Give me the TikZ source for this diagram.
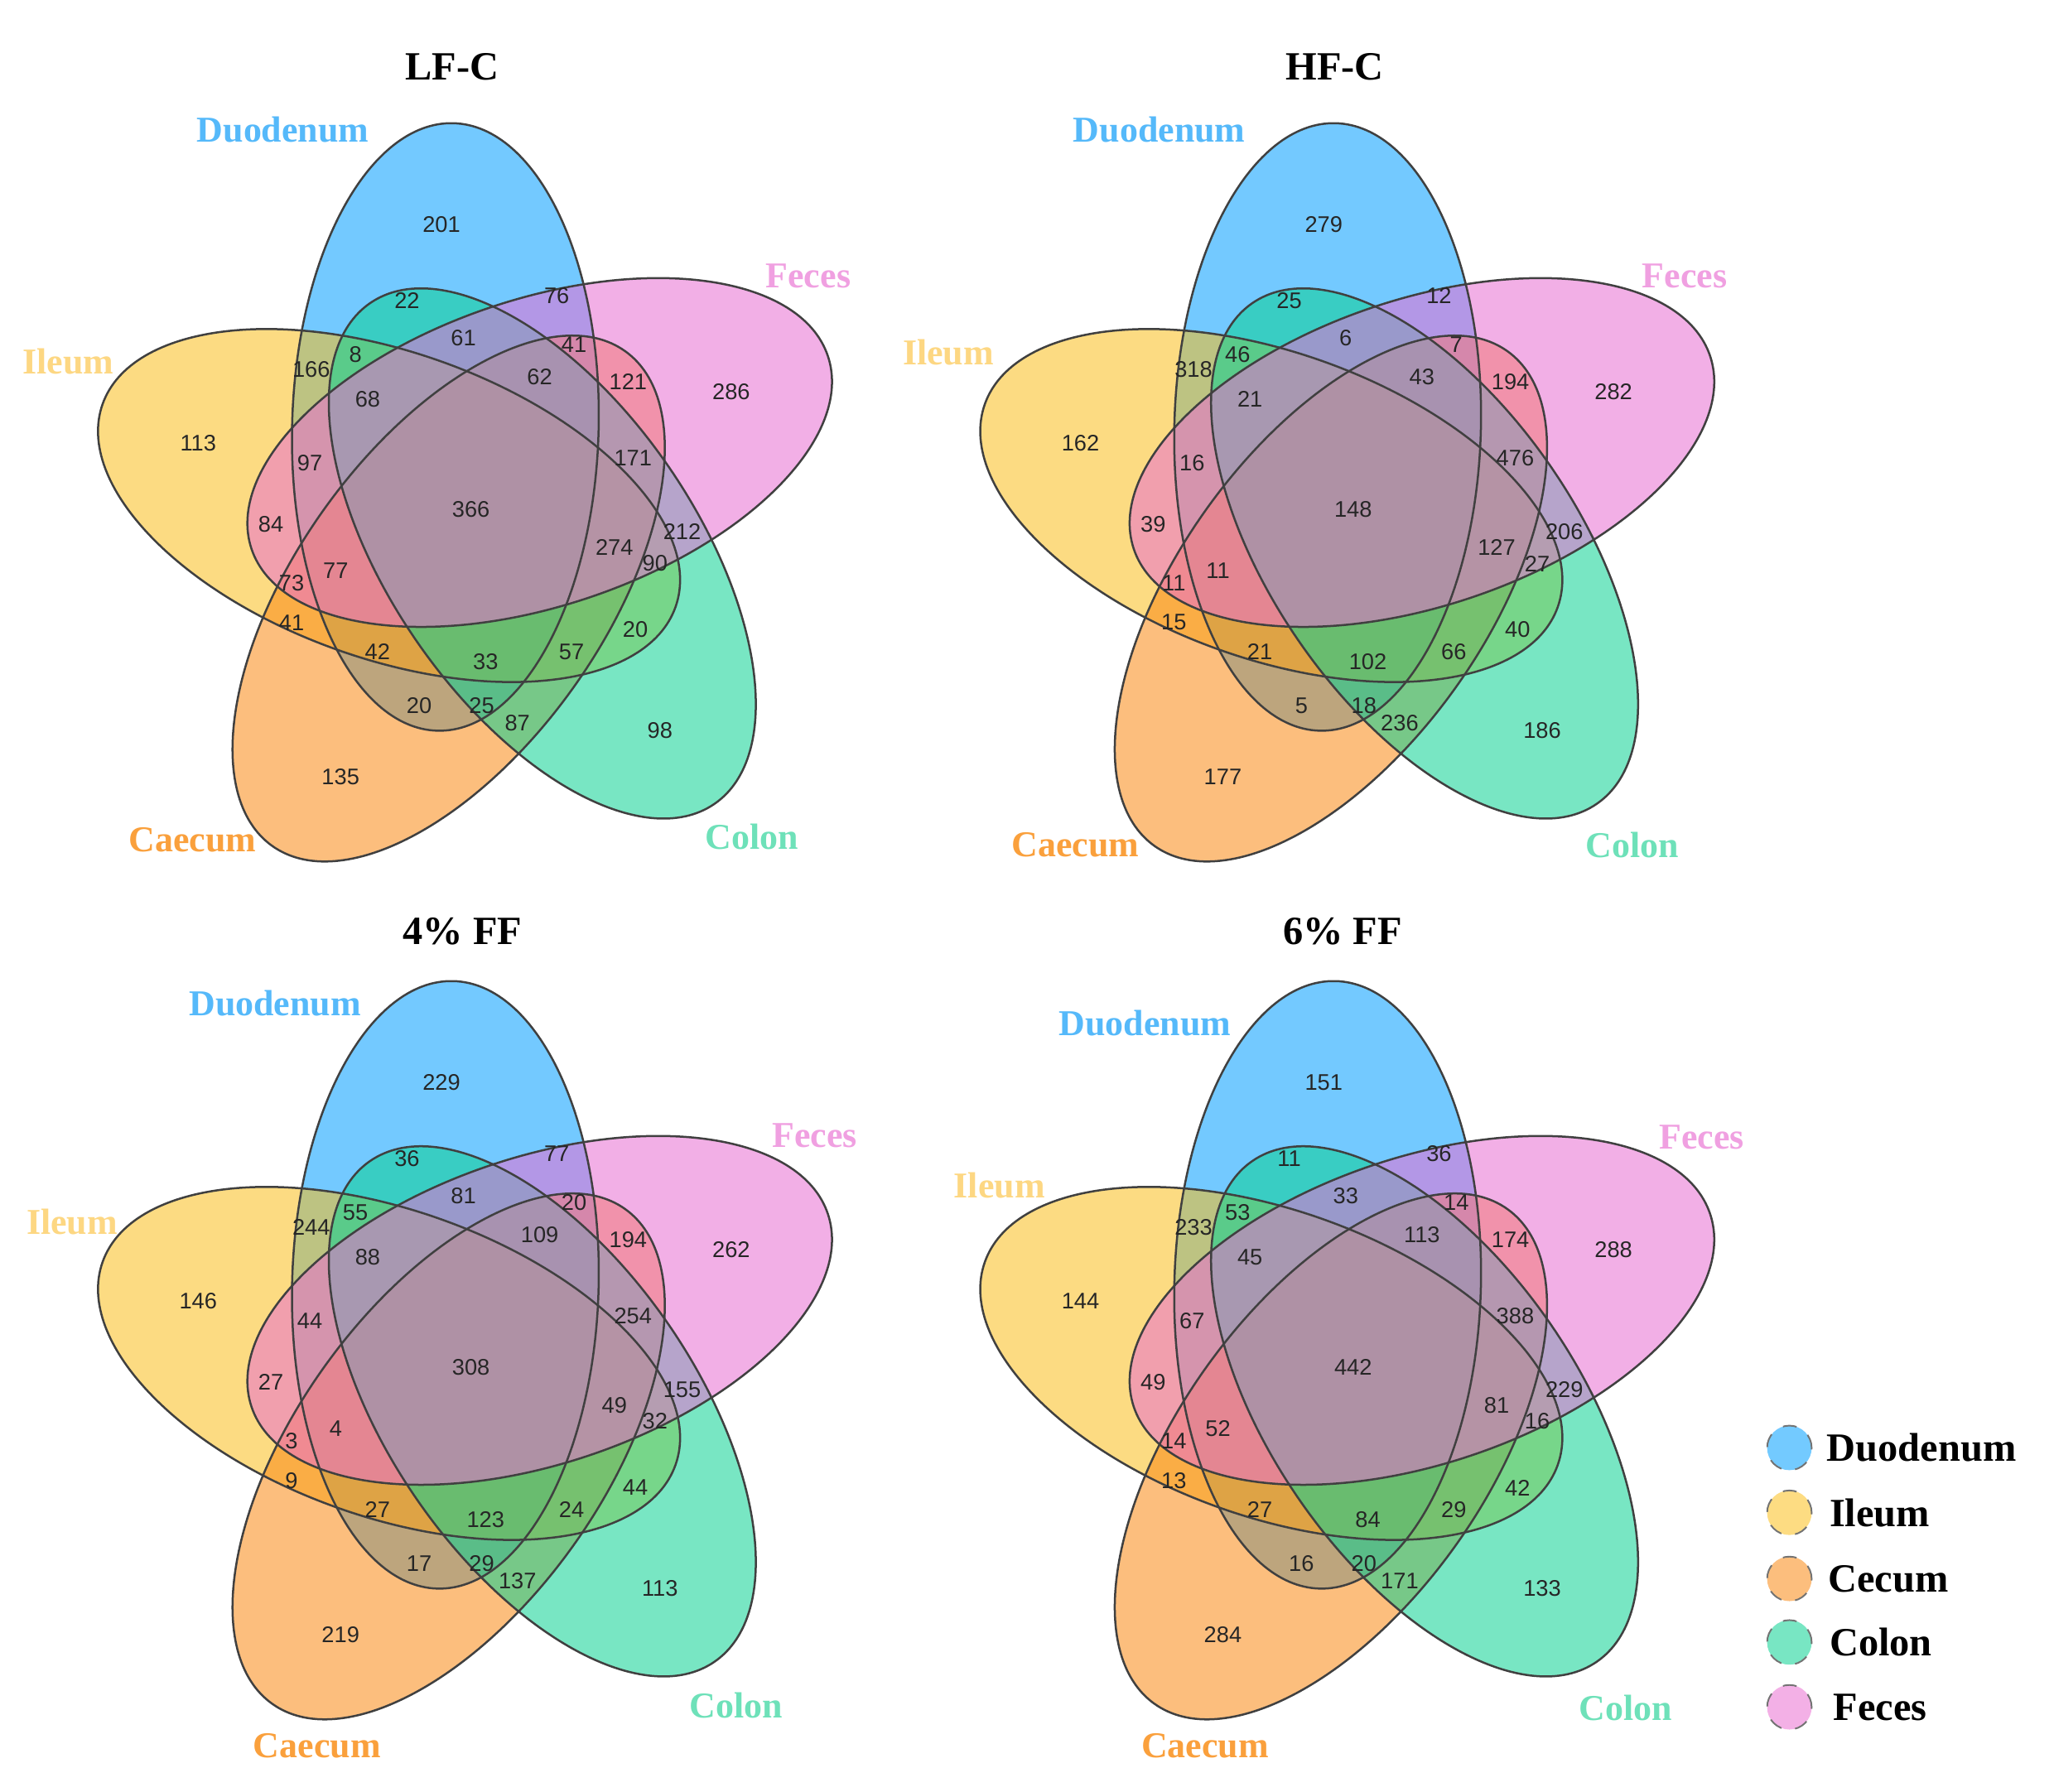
\documentclass[tikz,border=0pt]{standalone}
\usepackage{fontspec}
\setmainfont{Liberation Serif}
\newfontfamily\numfont{Liberation Sans}
\definecolor{cD}{RGB}{0,158,255}
\definecolor{cI}{RGB}{251,191,28}
\definecolor{cCa}{RGB}{250,137,19}
\definecolor{cCo}{RGB}{10,210,146}
\definecolor{cF}{RGB}{233,111,210}
\definecolor{lD}{RGB}{85,185,250}
\definecolor{lI}{RGB}{253,215,130}
\definecolor{lCa}{RGB}{250,160,60}
\definecolor{lCo}{RGB}{110,225,185}
\definecolor{lF}{RGB}{240,160,225}
\tikzset{
  vfill/.style={fill=#1, fill opacity=0.55},
  vline/.style={draw=black!75, line width=0.45pt},
  num/.style={font=\numfont\fontsize{4.9}{5}\selectfont, text=black!85, inner sep=0pt},
  paneltitle/.style={font=\fontsize{8.7}{10}\selectfont\bfseries, inner sep=0pt},
  setlab/.style={font=\fontsize{7.9}{9}\selectfont\bfseries, text=#1, inner sep=0pt},
  legtext/.style={font=\fontsize{8.7}{10}\selectfont\bfseries, anchor=west, inner sep=0pt},
  legdot/.style={circle, inner sep=0pt, minimum size=0.34cm, fill=#1, draw=black!55, dashed, line width=0.35pt}
}
\newcommand\vennellipse[3]{\path[shift={(#1)},rotate=#2,#3] (0,0) ellipse [x radius=232, y radius=117];}
\newcommand\venndiagram{%
  \vennellipse{340,326}{88.5}{vfill=cD}
  \vennellipse{297,386}{160.5}{vfill=cI}
  \vennellipse{342.5,457}{54.5}{vfill=cCa}
  \vennellipse{414,422.6}{-55.5}{vfill=cCo}
  \vennellipse{412,345.5}{18.5}{vfill=cF}
  \vennellipse{340,326}{88.5}{vline}
  \vennellipse{297,386}{160.5}{vline}
  \vennellipse{342.5,457}{54.5}{vline}
  \vennellipse{414,422.6}{-55.5}{vline}
  \vennellipse{412,345.5}{18.5}{vline}
}
\def\regionlist{337/171.5,310.7/229.6,425/226,353.8/257.8,271.3/270.9,237.6/282.2,%
438.2/263.4,412/287.8,479.5/291.5,558.2/299,280.7/304.7,151.3/338.4,236.5/353.4,%
483.2/349.7,359.5/389,206.8/400.3,520.7/405.9,469/417.9,500/430.3,256.3/435.9,%
222.6/445.3,222.6/475.3,485/480.9,288.2/497.8,436.3/497.8,370.7/505.3,320/539,%
367.7/539,395/552,503.8/557.8,260/593.4}
\newcommand\placenums[2]{%
  \foreach \px/\py [count=\i from 0] in \regionlist {%
    \pgfmathtruncatemacro\val{#1[\i]}%
    \node[num] (#2\i) at (\px,\py) {\val};
  }%
}
\begin{document}
\begin{tikzpicture}[x=0.01cm, y=-0.01cm]
\fill[white] (0,0) rectangle (1568,1368);
\useasboundingbox (0,0) rectangle (1568,1368);

% LF-C
\begin{scope}
  \venndiagram
  \placenums{{201,22,76,61,8,166,41,62,121,286,68,113,97,171,366,84,212,274,90,77,73,41,20,42,57,33,20,25,87,98,135}}{lf}
\end{scope}
% HF-C
\begin{scope}[shift={(673.5,0)}]
  \venndiagram
  \placenums{{279,25,12,6,46,318,7,43,194,282,21,162,16,476,148,39,206,127,27,11,11,15,40,21,66,102,5,18,236,186,177}}{hf}
\end{scope}
% 4% FF
\begin{scope}[shift={(0,655)}]
  \venndiagram
  \placenums{{229,36,77,81,55,244,20,109,194,262,88,146,44,254,308,27,155,49,32,4,3,9,44,27,24,123,17,29,137,113,219}}{ffa}
\end{scope}
% 6% FF
\begin{scope}[shift={(673.5,655)}]
  \venndiagram
  \placenums{{151,11,36,33,53,233,14,113,174,288,45,144,67,388,442,49,229,81,16,52,14,13,42,27,29,84,16,20,171,133,284}}{ffb}
\end{scope}

% titles
\node[paneltitle] (t1) at (345,51) {LF-C};
\node[paneltitle] (t2) at (1019,51) {HF-C};
\node[paneltitle] (t3) at (353,711) {4\% FF};
\node[paneltitle] (t4) at (1025,711) {6\% FF};

% set labels LF-C
\node[setlab=lD] (a1) at (216,99) {Duodenum};
\node[setlab=lF] (a2) at (617,211) {Feces};
\node[setlab=lI] (a3) at (52,276) {Ileum};
\node[setlab=lCa] (a4) at (147,641) {Caecum};
\node[setlab=lCo] (a5) at (574,639) {Colon};
% HF-C
\node[setlab=lD] (b1) at (885,99) {Duodenum};
\node[setlab=lF] (b2) at (1286,211) {Feces};
\node[setlab=lI] (b3) at (724,269) {Ileum};
\node[setlab=lCa] (b4) at (821,645) {Caecum};
\node[setlab=lCo] (b5) at (1246,645) {Colon};
% 4% FF
\node[setlab=lD] (c1) at (210,766) {Duodenum};
\node[setlab=lF] (c2) at (622,867) {Feces};
\node[setlab=lI] (c3) at (55,933) {Ileum};
\node[setlab=lCa] (c4) at (242,1333) {Caecum};
\node[setlab=lCo] (c5) at (562,1302) {Colon};
% 6% FF
\node[setlab=lD] (d1) at (874,781) {Duodenum};
\node[setlab=lF] (d2) at (1299,868) {Feces};
\node[setlab=lI] (d3) at (763,905) {Ileum};
\node[setlab=lCa] (d4) at (920,1333) {Caecum};
\node[setlab=lCo] (d5) at (1241,1304) {Colon};

% legend
\node[legdot=cD!55] (g1) at (1366,1105.5) {};
\node[legdot=cI!55] (g2) at (1366,1155) {};
\node[legdot=cCa!55] (g3) at (1366,1205.5) {};
\node[legdot=cCo!55] (g4) at (1366,1254) {};
\node[legdot=cF!55] (g5) at (1366,1303.5) {};
\node[legtext] (h1) at (1394,1105.5) {Duodenum};
\node[legtext] (h2) at (1396,1155) {Ileum};
\node[legtext] (h3) at (1395,1205.5) {Cecum};
\node[legtext] (h4) at (1396,1254) {Colon};
\node[legtext] (h5) at (1399,1303.5) {Feces};
\end{tikzpicture}
\end{document}
